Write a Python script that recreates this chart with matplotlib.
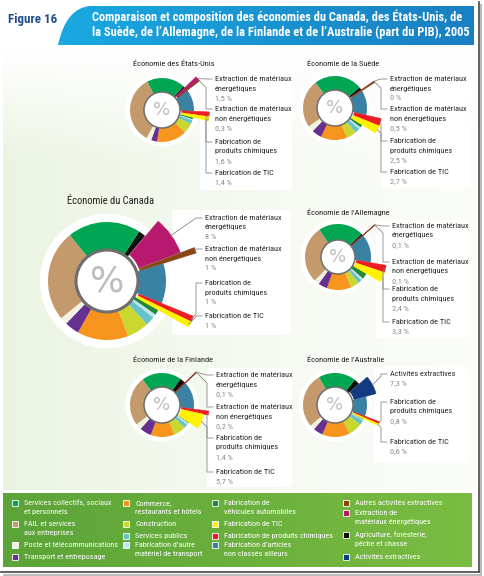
import numpy as np
import matplotlib.pyplot as plt
from matplotlib import font_manager as fm
from matplotlib.patches import Circle, FancyBboxPatch, Rectangle, PathPatch
from matplotlib.path import Path

noms_polices = {f.name for f in fm.fontManager.ttflist}
police = 'DejaVu Sans'
for cand in ['Roboto Condensed', 'Liberation Sans Narrow', 'Open Sans Condensed', 'Lato', 'Liberation Sans']:
    if cand in noms_polices:
        police = cand
        break
plt.rcParams['font.family'] = [police, 'DejaVu Sans']

W, H = 484, 576

# secteurs, dans l'ordre horaire des anneaux
secteurs = ['Agriculture, foresterie, pêche et chasse',
            'Extraction de matériaux énergétiques',
            'Autres activités extractives',
            'Activités extractives',
            "Fabrication d'articles non classés ailleurs",
            'Fabrication de produits chimiques',
            'Fabrication de TIC',
            'Fabrication de véhicules automobiles',
            "Fabrication d'autre matériel de transport",
            'Services publics',
            'Construction',
            'Commerce, restaurants et hôtels',
            'Transport et entreposage',
            'Poste et télécommunications',
            'FAIL et services aux entreprises',
            'Services collectifs, sociaux et personnels']
couleurs = ['#111111', '#b8186e', '#8a4513', '#123a80', '#3a82a3', '#ec1c24',
            '#fff200', '#22893c', '#c4e4f2', '#66c3c8', '#c9d72e', '#f7941d',
            '#66308f', '#f1f1e2', '#c49a6c', '#00a651']

# part du PIB (%), même ordre que secteurs
canada     = [2.0, 8.0, 1.0, 0, 11.0, 1.0, 1.0, 1.5, 1.0, 2.5, 6.0, 14.0, 4.0, 2.0, 25.0, 20.0]
etats_unis = [1.0, 1.5, 0.3, 0, 11.0, 1.6, 1.4, 1.0, 0.5, 2.0, 5.0, 15.0, 3.0, 2.5, 34.0, 19.0]
suede      = [1.5, 0.0, 0.5, 0, 12.5, 2.5, 2.7, 1.5, 1.0, 2.5, 5.0, 13.0, 5.0, 3.0, 24.0, 24.0]
allemagne  = [1.0, 0.1, 0.1, 0, 14.0, 2.4, 3.3, 3.0, 1.0, 2.0, 4.0, 12.0, 4.5, 2.5, 28.0, 22.0]
finlande   = [3.0, 0.1, 0.2, 0, 14.0, 1.4, 5.7, 0.5, 1.0, 2.0, 6.0, 12.0, 6.0, 3.0, 25.0, 20.0]
australie  = [3.0, 0, 0, 7.3, 10.0, 0.8, 0.6, 0.5, 0.5, 2.5, 7.0, 14.0, 5.0, 2.5, 28.0, 19.0]

noms_labels = {1: ['Extraction de matériaux', 'énergétiques'],
               2: ['Extraction de matériaux', 'non énergétiques'],
               3: ['Activités extractives'],
               5: ['Fabrication de', 'produits chimiques'],
               6: ['Fabrication de TIC']}

legende = [
    [(15, 'Services collectifs, sociaux\net personnels'), (14, 'FAIL et services\naux entreprises'),
     (13, 'Poste et télécommunications'), (12, 'Transport et entreposage')],
    [(11, 'Commerce,\nrestaurants et hôtels'), (10, 'Construction'),
     (9, 'Services publics'), (8, 'Fabrication d’autre\nmatériel de transport')],
    [(7, 'Fabrication de\nvéhicules automobiles'), (6, 'Fabrication de TIC'),
     (5, 'Fabrication de produits chimiques'), (4, 'Fabrication d’articles\nnon classés ailleurs')],
    [(2, 'Autres activités extractives'), (1, 'Extraction de\nmatériaux énergétiques'),
     (0, 'Agriculture, foresterie,\npêche et chasse'), (3, 'Activités extractives')],
]
leg_y = [[503, 524, 545, 557], [503, 524, 536, 545], [503, 524, 536, 545], [503, 513, 535, 557]]
leg_x = [15, 126, 215, 346]

fig = plt.figure(figsize=(W / 100, H / 100), dpi=100)
ax = fig.add_axes([0, 0, 1, 1])
ax.set_xlim(0, W)
ax.set_ylim(0, H)
ax.axis('off')
rend = fig.canvas.get_renderer()


def Y(y):
    return H - y


def taille(s, cible, **kw):
    t = ax.text(0, 0, s, fontsize=10, **kw)
    w = t.get_window_extent(rend).width
    t.remove()
    return 10 * cible / w


fs_lab = taille('Extraction de matériaux', 77)
fs_leg = taille('Services collectifs, sociaux', 86)
fs_tit = taille('Économie des États-Unis', 81)
fs_can = taille('Économie du Canada', 87)
fs_big = taille('Comparaison et composition des économies du Canada, des États-Unis, de', 372, fontweight='bold')
fs_fig = taille('Figure 16', 49, fontweight='bold')

# fond
xx, yy = np.meshgrid(np.linspace(0, 1, 200), np.linspace(0, 1, 200))
t = np.clip(0.2 + 0.6 * (1 - xx) ** 1.5, 0, 1) * np.clip(yy / 0.25, 0, 1)
vert = np.array([0.90, 0.945, 0.86])
img = 1 - t[..., None] * (1 - vert)
ax.imshow(img, extent=(3, 475, Y(490), Y(50)), origin='upper', zorder=0, aspect='auto')

# cadre / ombre
ax.plot([478.5, 478.5], [Y(2), Y(572)], color='#444444', lw=1.2, zorder=1)
ax.plot([1, 478.5], [Y(572), Y(572)], color='#444444', lw=1.2, zorder=1)
ax.plot([481, 481], [Y(5), Y(575)], color='#bbbbbb', lw=1.5, zorder=1)
ax.plot([4, 481], [Y(574.5), Y(574.5)], color='#bbbbbb', lw=1.5, zorder=1)

# bandeau de titre
bar = PathPatch(Path([(58, Y(45)), (66, Y(8)), (90, Y(6)), (474, Y(6)), (474, Y(45)), (58, Y(45))],
                     [Path.MOVETO, Path.CURVE3, Path.CURVE3, Path.LINETO, Path.LINETO, Path.CLOSEPOLY]),
                fc='none', ec='none', zorder=2)
ax.add_patch(bar)
grad = np.linspace(0, 1, 256)[None, :]
blues = np.stack([0.10 + 0.0 * grad, 0.66 - 0.16 * grad, 0.88 - 0.12 * grad], axis=-1)
gi = ax.imshow(blues, extent=(58, 474, Y(45), Y(6)), aspect='auto', zorder=2)
gi.set_clip_path(bar)
ax.text(8, Y(20), 'Figure 16', fontsize=fs_fig, fontweight='bold', color='#1f4f8c', va='center', zorder=5)
ax.text(92, Y(17), 'Comparaison et composition des économies du Canada, des États-Unis, de',
        fontsize=fs_big, fontweight='bold', color='white', va='center', zorder=5)
ax.text(92, Y(32), 'la Suède, de l’Allemagne, de la Finlande et de l’Australie (part du PIB), 2005',
        fontsize=fs_big, fontweight='bold', color='white', va='center', zorder=5)


def lignes(x, y, txts, cols, fs, dy=9.5):
    for k, (s, c) in enumerate(zip(txts, cols)):
        ax.text(x, Y(y + k * dy), s, fontsize=fs, color=c, va='center', ha='left', zorder=6)


def fmt(v):
    return f'{v:g}'.replace('.', ',') + ' %'


def donut(vals, titre, cx, cy, r, ri, start, hl, tx, tys, panel, titre_xy, grand=False):
    x0, y0, x1, y1 = panel
    ax.add_patch(FancyBboxPatch((x0, Y(y1)), x1 - x0, y1 - y0, boxstyle='round,pad=0,rounding_size=3',
                                fc='white', ec='none', zorder=1.5))
    ax.add_patch(Circle((cx, Y(cy)), r * 1.14, fc='white', ec='none', zorder=1.6))
    wedges, _ = ax.pie(vals, colors=couleurs, center=(cx, Y(cy)), radius=r, startangle=start,
                       counterclock=False, frame=True,
                       wedgeprops=dict(width=r - ri, linewidth=0))
    for w in wedges:
        w.set_zorder(3)
    for i, ty in zip(hl, tys):
        w = wedges[i]
        f = 1.3 if vals[i] > 4 else (1.55 if grand else 1.45)
        a = np.deg2rad((w.theta1 + w.theta2) / 2)
        d = 2 if grand else 1
        w.set_center((cx + d * np.cos(a), Y(cy) + d * np.sin(a)))
        w.set_radius(r * f)
        w.set_width(r * f - ri * 1.05)
        w.set_edgecolor(couleurs[i])
        w.set_linewidth(0.4)
        w.set_zorder(3.5)
        px = cx + (r * f + 1) * np.cos(a)
        py = cy - (r * f + 1) * np.sin(a)
        xe = tx - 9
        dx = abs(xe - px)
        if ty < py:
            ym = max(ty, py - dx)
        else:
            ym = min(ty, py + dx)
        ax.plot([px, xe, xe, tx - 3], [Y(py), Y(ym), Y(ty), Y(ty)], color='#8a8a8a', lw=0.6, zorder=5)
        txt = noms_labels[i]
        lignes(tx, ty, txt + [fmt(vals[i])], ['#2a2a2a'] * len(txt) + ['#8a8a8a'], fs_lab)
    ax.add_patch(Circle((cx, Y(cy)), ri, fc='white', ec='#6e6e6e', lw=2.2 if grand else 1.1, zorder=4))
    ax.text(cx, Y(cy), '%', fontsize=26 if grand else 13, color='#bdbdbd', ha='center', va='center',
            zorder=5, family='DejaVu Sans')
    ax.text(titre_xy[0], Y(titre_xy[1]), titre, fontsize=fs_can if grand else fs_tit, color='#222222',
            va='center', zorder=6)


donut(etats_unis, 'Économie des États-Unis', 162, 110, 32, 18, 48, [1, 2, 5, 6], 215, [79, 109, 142, 173],
      (200, 71, 292, 190), (133, 64))
donut(suede, 'Économie de la Suède', 335, 108, 32, 18, 40, [1, 2, 5, 6], 390, [79, 109, 141, 172],
      (381, 71, 471, 188), (307, 64))
donut(canada, 'Économie du Canada', 107, 281, 59, 31, 57, [1, 2, 5, 6], 205, [218, 249, 283, 316],
      (172, 210, 291, 335), (67, 201), grand=True)
donut(allemagne, "Économie de l'Allemagne", 338, 257, 33, 17, 45, [1, 2, 5, 6], 392, [226, 262, 289, 322],
      (376, 220, 468, 338), (307, 212))
donut(finlande, 'Économie de la Finlande', 162, 405, 32, 18, 55, [1, 2, 5, 6], 216, [375, 407, 438, 472],
      (207, 368, 292, 487), (133, 360))
donut(australie, "Économie de l'Australie", 335, 405, 32, 18, 52, [3, 5, 6], 390, [374, 402, 442],
      (374, 367, 468, 463), (307, 360))

# légende
gv = np.stack([0.36 + 0.12 * grad, 0.64 + 0.10 * grad, 0.22 + 0.04 * grad], axis=-1)
ax.imshow(gv, extent=(3, 472, Y(567), Y(493)), aspect='auto', zorder=2)
for col, ys, x in zip(legende, leg_y, leg_x):
    for (i, s), y in zip(col, ys):
        ax.add_patch(Rectangle((x - 3, Y(y) - 3), 6, 6, fc=couleurs[i], ec='white', lw=0.6, zorder=6))
        lignes(x + 9, y, s.split('\n'), ['white'] * 2, fs_leg, dy=9)

ax.set_xlim(0, W)
ax.set_ylim(0, H)
fig.savefig('out.png', dpi=100)
